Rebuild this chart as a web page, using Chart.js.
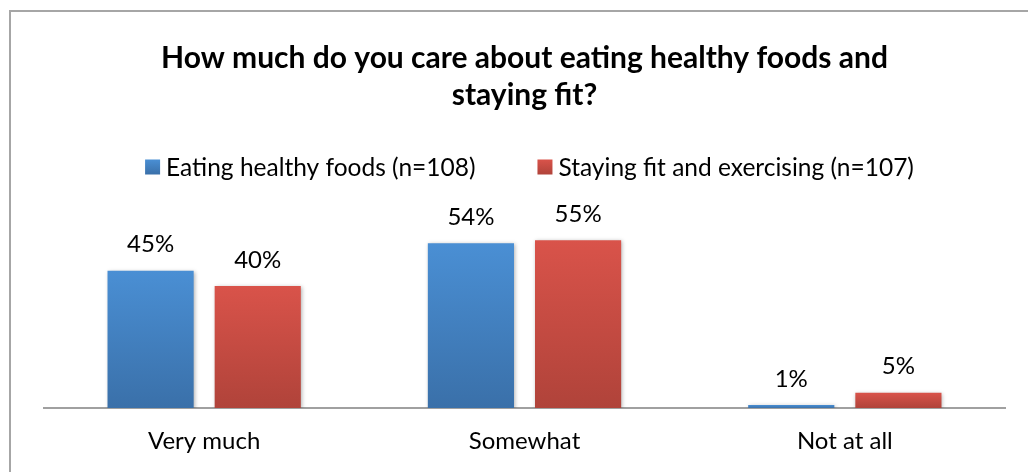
<!DOCTYPE html>
<html>
<head>
<meta charset="utf-8">
<script src="https://cdn.jsdelivr.net/npm/chart.js@4.4.0/dist/chart.umd.min.js"></script>
<style>
  html, body { margin: 0; padding: 0; background: #fff; overflow: hidden; }
  #wrap { position: relative; width: 1028px; height: 472px; }
  #frame { position: absolute; left: 9px; top: 10px; width: 1100px; height: 600px; border: 2px solid #a6a6a6; box-sizing: border-box; }
  canvas { position: absolute; left: 0; top: 0; }
</style>
</head>
<body>
<div id="wrap">
  <div id="frame"></div>
  <canvas id="careChart" width="1028" height="472"></canvas>
</div>
<script>
// Survey answers, percent of respondents
const categories = ['Very much', 'Somewhat', 'Not at all'];
const seriesNames = ['Eating healthy foods (n=108)', 'Staying fit and exercising (n=107)'];
const healthyFoods = [45, 54, 1];
const stayingFit = [40, 55, 5];
const titleLines = ['How much do you care about eating healthy foods and', 'staying fit?'];

const FONT = 'Lato, "Open Sans", sans-serif';

// top / bottom colours of each series' gradient
const shades = [
  ['#4a8fd4', '#3a70a9'],
  ['#d9534a', '#b0433a']
];

function barFill(ctx) {
  const chart = ctx.chart;
  const pair = shades[ctx.datasetIndex];
  if (!chart.chartArea || !chart.scales.y) return pair[0];
  const y = chart.scales.y;
  const top = y.getPixelForValue(ctx.raw);
  const bottom = y.getPixelForValue(0);
  const g = chart.ctx.createLinearGradient(0, top, 0, bottom + 0.01);
  g.addColorStop(0, pair[0]);
  g.addColorStop(1, pair[1]);
  return g;
}

// soft shadow under the bars
const barShadow = {
  id: 'barShadow',
  beforeDatasetsDraw(chart) {
    const c = chart.ctx;
    c.save();
    c.shadowColor = 'rgba(0,0,0,0.3)';
    c.shadowBlur = 4;
    c.shadowOffsetX = 1;
    c.shadowOffsetY = 1;
  },
  afterDatasetsDraw(chart) {
    chart.ctx.restore();
  }
};

// percent labels above each bar
const valueLabels = {
  id: 'valueLabels',
  afterDatasetsDraw(chart) {
    const c = chart.ctx;
    c.save();
    c.font = '24px ' + FONT;
    c.fillStyle = '#000';
    c.textAlign = 'center';
    c.textBaseline = 'middle';
    chart.data.datasets.forEach((ds, i) => {
      chart.getDatasetMeta(i).data.forEach((bar, j) => {
        c.fillText(ds.data[j] + '%', bar.x, bar.y - 26);
      });
    });
    c.restore();
  }
};

// legend row between title and bars
const legendRow = {
  id: 'legendRow',
  afterDraw(chart) {
    const c = chart.ctx;
    const box = 15, gap = 6, spacing = 62, cy = 167;
    c.save();
    c.font = '24.5px ' + FONT;
    c.textBaseline = 'middle';
    const widths = seriesNames.map(n => c.measureText(n).width);
    const total = widths.reduce((a, w) => a + box + gap + w, 0) + spacing * (seriesNames.length - 1);
    let x = (chart.chartArea.left + chart.chartArea.right) / 2 - total / 2 + 5;
    seriesNames.forEach((name, i) => {
      const g = c.createLinearGradient(0, cy - box / 2, 0, cy + box / 2);
      g.addColorStop(0, shades[i][0]);
      g.addColorStop(1, shades[i][1]);
      c.fillStyle = g;
      c.fillRect(x, cy - box / 2, box, box);
      c.fillStyle = '#000';
      c.fillText(name, x + box + gap, cy + 1);
      x += box + gap + widths[i] + spacing;
    });
    c.restore();
  }
};

new Chart(document.getElementById('careChart'), {
  type: 'bar',
  data: {
    labels: categories,
    datasets: [
      { label: seriesNames[0], data: healthyFoods, backgroundColor: barFill },
      { label: seriesNames[1], data: stayingFit, backgroundColor: barFill }
    ]
  },
  options: {
    responsive: false,
    animation: false,
    categoryPercentage: 0.669,
    barPercentage: 0.804,
    layout: { padding: { left: 44, right: 23, top: 0, bottom: 0 } },
    plugins: {
      legend: { display: false },
      tooltip: { enabled: false },
      title: {
        display: true,
        text: titleLines,
        color: '#000',
        font: { family: FONT, size: 30, weight: 'bold', lineHeight: 1.233 },
        padding: { top: 40, bottom: 111 }
      }
    },
    scales: {
      x: {
        grid: { display: false, drawTicks: false },
        border: { display: true, color: '#a0a0a0', width: 2 },
        ticks: { color: '#000', padding: 19, font: { family: FONT, size: 24 } },
        afterFit(scale) { scale.height = 64; }
      },
      y: {
        display: false,
        min: 0,
        max: 60
      }
    }
  },
  plugins: [barShadow, valueLabels, legendRow]
});
</script>
</body>
</html>
